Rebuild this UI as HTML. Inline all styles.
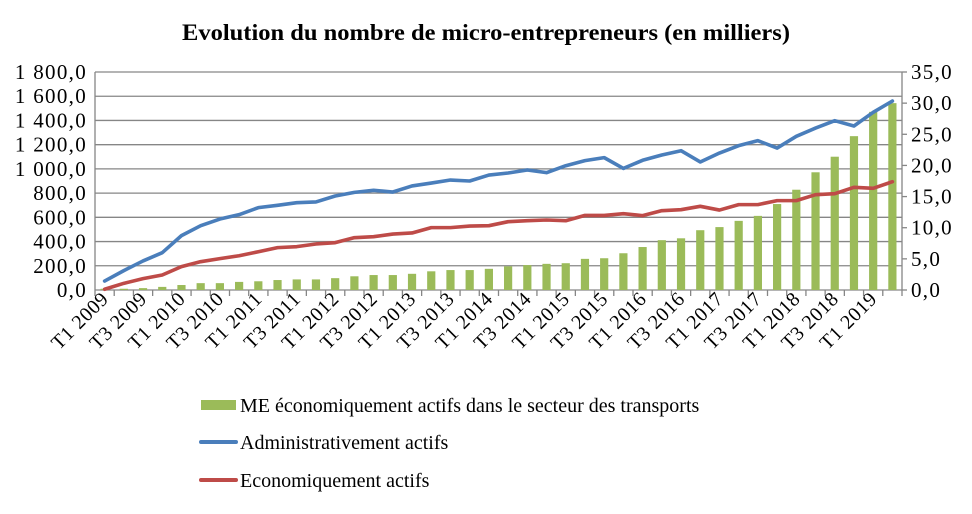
<!DOCTYPE html>
<html><head><meta charset="utf-8">
<style>
body{margin:0;background:#fff;}
svg text{font-family:"Liberation Serif",serif;fill:#000;}
</style></head>
<body>
<svg id="chart" width="972" height="509" xmlns="http://www.w3.org/2000/svg">
<text x="182" y="40" font-size="23" font-weight="bold" textLength="608" lengthAdjust="spacingAndGlyphs">Evolution du nombre de micro-entrepreneurs (en milliers)</text>
<g id="grid"></g><g id="bars"></g><g id="lines"></g><g id="axes"></g>
<g>
<g><rect x="201" y="400" width="35" height="10" fill="#9BBB59"/><text x="240" y="412" font-size="20">ME économiquement actifs dans le secteur des transports</text></g>
<g><line x1="201" y1="442" x2="236" y2="442" stroke="#4A7EBB" stroke-width="4" stroke-linecap="round"/><text x="240" y="449" font-size="20">Administrativement actifs</text></g>
<g><line x1="201" y1="480" x2="236" y2="480" stroke="#BE4B48" stroke-width="4" stroke-linecap="round"/><text x="240" y="487" font-size="20">Economiquement actifs</text></g>
</g>
</svg>
<script>
const quarters = ["T1","T2","T3","T4"];
const startYear = 2009;
const nCat = 42;
const transportValues = [0.2,0.2,0.3,0.5,0.8,1.1,1.1,1.3,1.4,1.6,1.7,1.7,1.9,2.2,2.4,2.4,2.6,3.0,3.2,3.2,3.4,3.8,4.0,4.2,4.3,5.0,5.1,5.9,6.9,8.0,8.3,9.6,10.1,11.1,11.9,13.8,16.1,18.9,21.4,24.7,28.6,30.0];
const adminValues = [74,160,240,308,449,531,586,622,680,699,721,727,776,806,823,809,859,883,908,900,949,966,991,969,1026,1068,1093,1004,1071,1115,1150,1057,1131,1192,1233,1172,1269,1337,1398,1354,1467,1560];
const ecoValues = [6,55,94,124,193,234,259,283,316,350,358,380,391,432,440,462,471,515,515,528,531,564,572,578,572,616,616,630,614,655,663,691,660,705,705,738,738,787,795,848,840,894];
const leftTicks = [0,200,400,600,800,1000,1200,1400,1600,1800];
const rightTicks = [0,5,10,15,20,25,30,35];

const NS="http://www.w3.org/2000/svg";
const X0=95,X1=902,Y0=290,Y1=72;
const cw=(X1-X0)/nCat;
const xC=i=>X0+cw*(i+0.5);
const yL=v=>Y0-(v/1800)*(Y0-Y1);
const yR=v=>Y0-(v/35)*(Y0-Y1);
function mk(tag,attrs,parent){const e=document.createElementNS(NS,tag);for(const k in attrs)e.setAttribute(k,attrs[k]);parent.appendChild(e);return e;}
const fmt=v=>{let s=v.toFixed(1).replace('.',',');let [a,b]=s.split(',');a=a.replace(/\B(?=(\d{3})+(?!\d))/g,' ');return a+','+b;};

const grid=document.getElementById('grid'),axes=document.getElementById('axes'),bars=document.getElementById('bars'),lines=document.getElementById('lines');
leftTicks.forEach(t=>{
  const l=mk('line',{x1:X0,x2:X1,y1:yL(t),y2:yL(t),stroke:'#868686','stroke-width':1.3},grid);
  
  
  const tx=mk('text',{x:X0-8,y:yL(t)+7,'text-anchor':'end','font-size':21,'letter-spacing':1.3},axes);
  tx.textContent=fmt(t);
  
  
});
rightTicks.forEach(t=>{
  mk('line',{x1:X1,x2:X1+5,y1:yR(t),y2:yR(t),stroke:'#868686','stroke-width':1.3},axes);
  const tx=mk('text',{x:X1+9,y:yR(t)+7,'font-size':21,'letter-spacing':1.3},axes);
  tx.textContent=fmt(t);
  
  
});
mk('line',{x1:X0,x2:X0,y1:Y1,y2:Y0,stroke:'#868686','stroke-width':1.3},axes);
mk('line',{x1:X1,x2:X1,y1:Y1,y2:Y0,stroke:'#868686','stroke-width':1.3},axes);
for(let i=0;i<=nCat;i++) mk('line',{x1:X0+cw*i,x2:X0+cw*i,y1:Y0,y2:Y0+6,stroke:'#868686','stroke-width':1.3},axes);
for(let i=0;i<nCat;i+=2){
  const lab=quarters[i%4]+' '+(startYear+Math.floor(i/4));
  const x=xC(i)+5,y=Y0+10;
  const tx=mk('text',{x:x,y:y,'text-anchor':'end','font-size':20,'letter-spacing':0.6,transform:`rotate(-45 ${x} ${y})`},axes);
  tx.textContent=lab;
  
  
}
transportValues.forEach((v,i)=>{
  const bw=8.2;
  const r=mk('rect',{x:xC(i)-bw/2,y:yR(v),width:bw,height:Y0-yR(v),fill:'#9BBB59'},bars);
  
  
});
function line(vals,color,name){
  const p=mk('polyline',{points:vals.map((v,i)=>xC(i)+','+yL(v)).join(' '),fill:'none',stroke:color,'stroke-width':3.6,'stroke-linejoin':'round','stroke-linecap':'round'},lines);
  
  
}
line(ecoValues,'#BE4B48','line-economiquement-actifs');
line(adminValues,'#4A7EBB','line-administrativement-actifs');
</script>
</body></html>
